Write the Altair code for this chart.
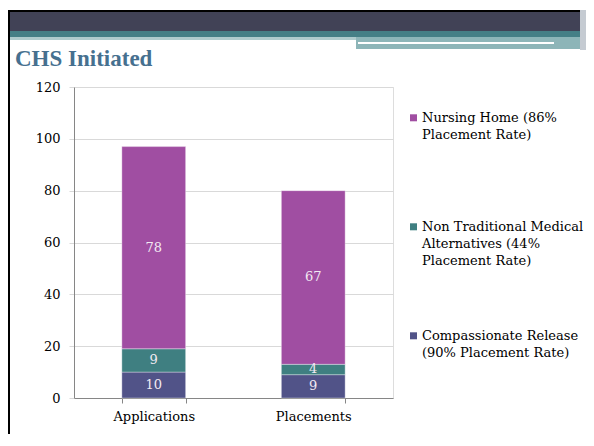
import altair as alt
import pandas as pd

categories = ["Applications", "Placements"]
series = [
    "Compassionate Release (90% Placement Rate)",
    "Non Traditional Medical Alternatives (44% Placement Rate)",
    "Nursing Home (86% Placement Rate)",
]
legend_lines = [
    ["Compassionate Release", "(90% Placement Rate)"],
    ["Non Traditional Medical", "Alternatives (44%", "Placement Rate)"],
    ["Nursing Home (86%", "Placement Rate)"],
]
values = {
    series[0]: [10, 9],
    series[1]: [9, 4],
    series[2]: [78, 67],
}
colors = ["#515388", "#3F7F81", "#A04EA2"]
y_ticks = [0, 20, 40, 60, 80, 100, 120]

rows = []
for si, s in enumerate(series):
    for ci, c in enumerate(categories):
        rows.append({"cat": c, "series": s, "value": values[s][ci], "ord": si})
df = pd.DataFrame(rows)

FONT = "DejaVu Serif"
FS = 13

# legend label expression (multi-line)
expr_parts = []
for s, lines in zip(series, legend_lines):
    arr = "[" + ",".join("'" + l + "'" for l in lines) + "]"
    expr_parts.append(f"datum.label == '{s}' ? {arr}")
label_expr = " : ".join(expr_parts) + " : datum.label"

base = alt.Chart(df).transform_stack(
    stack="value", as_=["y0", "y1"], groupby=["cat"],
    sort=[alt.SortField("ord", order="ascending")]
).transform_calculate(mid="(datum.y0 + datum.y1) / 2")

x_enc = alt.X(
    "cat:N", sort=categories, title=None,
    scale=alt.Scale(paddingInner=0.6, paddingOuter=0.3),
    axis=alt.Axis(labelAngle=0, labelFont=FONT, labelFontSize=FS, labelColor="#000000",
                  domainColor="#868686", tickColor="#868686", tickSize=5,
                  tickBand="extent", labelPadding=7, grid=False),
)

bars = base.mark_bar(stroke="#FFFFFF", strokeWidth=0.6, strokeOpacity=0.6).encode(
    x=x_enc,
    y=alt.Y("y0:Q", title=None,
            scale=alt.Scale(domain=[0, 120]),
            axis=alt.Axis(values=y_ticks, labelFont=FONT, labelFontSize=FS,
                          labelColor="#000000", domainColor="#868686",
                          tickColor="#D9D9D9", tickSize=5, labelPadding=9,
                          gridColor="#D9D9D9")),
    y2="y1:Q",
    color=alt.Color(
        "series:N",
        scale=alt.Scale(domain=series[::-1], range=colors[::-1]),
        legend=alt.Legend(
            title=None, orient="none", legendX=333, legendY=18,
            labelExpr=label_expr, labelFont=FONT, labelFontSize=FS,
            labelColor="#000000", labelBaseline="top",
            labelLimit=300, labelOffset=2, gridAlign="all", rowPadding=55,
            symbolType="M-1,0.8H1V2.8H-1Z", symbolSize=49, symbolStrokeWidth=0,
            padding=0,
        ),
    ),
    order=alt.Order("ord:Q"),
)

labels = base.mark_text(font=FONT, fontSize=FS, color="#F3EAF3", baseline="middle").encode(
    x=alt.X("cat:N", sort=categories),
    y=alt.Y("mid:Q"),
    text="value:Q",
)

one = alt.Data(values=[{}])

def rect(x1, x2, y1, y2, color):
    return alt.Chart(one).mark_rect(color=color).encode(
        x=alt.value(x1), x2=alt.value(x2), y=alt.value(y1), y2=alt.value(y2))

OX, OY = 74, 87  # plot origin on page
RIGHT = 586
deco = [
    rect(8 - OX, RIGHT - OX, 10 - OY, 12 - OY, "#000000"),
    rect(8 - OX, RIGHT - OX, 12 - OY, 31 - OY, "#414256"),
    rect(8 - OX, RIGHT - OX, 31 - OY, 37 - OY, "#457F86"),
    rect(8 - OX, 356 - OX, 37 - OY, 40 - OY, "#AFCBCD"),
    rect(356 - OX, 583 - OX, 37 - OY, 49 - OY, "#8DB5B8"),
    rect(358 - OX, 554 - OX, 42 - OY, 44 - OY, "#FFFFFF"),
    rect(580 - OX, RIGHT - OX, 10 - OY, 50 - OY, "#C5CBD2"),
    rect(8 - OX, 10 - OX, 10 - OY, 434 - OY, "#000000"),
]

title = alt.Chart(one).mark_text(
    text="CHS Initiated", font="Liberation Serif", fontSize=23, fontWeight="bold",
    color="#46708F", align="left", baseline="alphabetic",
).encode(x=alt.value(15 - OX), y=alt.value(66 - OY))

chart = alt.layer(*deco, title, bars, labels).properties(
    width=319, height=311,
    autosize=alt.AutoSizeParams(type="none"),
    padding={"left": 66, "top": 79, "right": 193, "bottom": 36},
).configure_view(stroke=None).configure(
    style={"guide-label": {"lineHeight": 17}}
)

chart.save("out.html", embed_options={"renderer": "svg", "actions": False})
